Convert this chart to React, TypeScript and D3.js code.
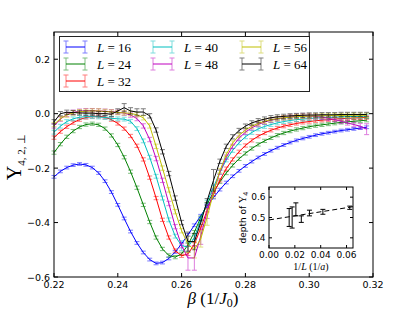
import * as d3 from "d3";

// coupling grid (1/J0)
const beta = [
  0.22, 0.222, 0.224, 0.226, 0.228, 0.23, 0.232, 0.234, 0.236, 0.238,
  0.24, 0.242, 0.244, 0.246, 0.248, 0.25, 0.252, 0.254, 0.256, 0.258,
  0.26, 0.262, 0.264, 0.266, 0.268, 0.27, 0.272, 0.274, 0.276, 0.278,
  0.28, 0.282, 0.284, 0.286, 0.288, 0.29, 0.292, 0.294, 0.296, 0.298,
  0.3, 0.302, 0.304, 0.306, 0.308, 0.31, 0.312, 0.314, 0.316, 0.318,
];

const lSizes = [16, 24, 32, 40, 48, 56, 64];
const lColors = ["#0000ff", "#008000", "#ff0000", "#00bfbf", "#bf00bf", "#bfbf00", "#000000"];

const ups16 = [
  -0.232, -0.212, -0.198, -0.189, -0.185, -0.188, -0.198, -0.218, -0.248, -0.288,
  -0.335, -0.385, -0.433, -0.475, -0.51, -0.536, -0.55, -0.547, -0.532, -0.508,
  -0.478, -0.445, -0.41, -0.375, -0.34, -0.308, -0.279, -0.253, -0.23, -0.21,
  -0.192, -0.176, -0.161, -0.148, -0.136, -0.125, -0.115, -0.106, -0.098, -0.091,
  -0.085, -0.079, -0.074, -0.07, -0.066, -0.062, -0.059, -0.056, -0.053, -0.05,
];
const ups24 = [
  -0.143, -0.112, -0.085, -0.064, -0.049, -0.04, -0.037, -0.041, -0.055, -0.08,
  -0.115, -0.16, -0.213, -0.272, -0.335, -0.398, -0.455, -0.497, -0.521, -0.527,
  -0.515, -0.482, -0.435, -0.382, -0.332, -0.288, -0.25, -0.218, -0.19, -0.166,
  -0.146, -0.128, -0.113, -0.1, -0.089, -0.079, -0.071, -0.064, -0.058, -0.053,
  -0.048, -0.044, -0.041, -0.038, -0.035, -0.032, -0.03, -0.028, -0.026, -0.024,
];
const ups32 = [
  -0.088, -0.066, -0.048, -0.033, -0.022, -0.014, -0.01, -0.009, -0.013, -0.022,
  -0.036, -0.055, -0.082, -0.118, -0.168, -0.235, -0.31, -0.39, -0.455, -0.503,
  -0.522, -0.515, -0.48, -0.42, -0.355, -0.295, -0.245, -0.202, -0.168, -0.14,
  -0.117, -0.098, -0.083, -0.071, -0.061, -0.053, -0.046, -0.041, -0.036, -0.032,
  -0.029, -0.026, -0.024, -0.022, -0.02, -0.018, -0.017, -0.016, -0.015, -0.014,
];
const ups40 = [
  -0.068, -0.046, -0.029, -0.019, -0.013, -0.011, -0.011, -0.012, -0.014, -0.017,
  -0.019, -0.02, -0.028, -0.055, -0.1, -0.16, -0.23, -0.31, -0.39, -0.45,
  -0.485, -0.49, -0.455, -0.39, -0.325, -0.27, -0.215, -0.17, -0.135, -0.107,
  -0.085, -0.069, -0.056, -0.047, -0.04, -0.034, -0.029, -0.025, -0.022, -0.02,
  -0.018, -0.016, -0.015, -0.014, -0.013, -0.012, -0.011, -0.01, -0.01, -0.009,
];
const ups48 = [
  -0.045, -0.02, -0.003, 0.005, 0.009, 0.011, 0.011, 0.01, 0.009, 0.007,
  0.005, 0.002, -0.005, -0.018, -0.045, -0.095, -0.165, -0.245, -0.33, -0.415,
  -0.485, -0.53, -0.53, -0.45, -0.36, -0.285, -0.215, -0.16, -0.12, -0.09,
  -0.068, -0.052, -0.04, -0.031, -0.024, -0.019, -0.015, -0.012, -0.01, -0.009,
  -0.009, -0.01, -0.013, -0.017, -0.022, -0.028, -0.034, -0.04, -0.046, -0.057,
];
const ups56 = [
  -0.04, -0.018, -0.005, 0.003, 0.007, 0.009, 0.01, 0.01, 0.008, 0.006,
  0.004, 0.003, 0.001, -0.004, -0.015, -0.045, -0.12, -0.2, -0.28, -0.36,
  -0.43, -0.48, -0.5, -0.46, -0.38, -0.29, -0.21, -0.15, -0.108, -0.08,
  -0.06, -0.046, -0.036, -0.028, -0.022, -0.018, -0.015, -0.013, -0.011, -0.01,
  -0.009, -0.008, -0.008, -0.007, -0.007, -0.007, -0.006, -0.006, -0.006, -0.006,
];
const ups64 = [
  -0.03, 0.0, 0.005, 0.004, 0.003, 0.002, 0.002, 0.0, 0.0, -0.002,
  0.01, 0.022, 0.01, 0.006, 0.006, -0.008, -0.06, -0.14, -0.22, -0.31,
  -0.4, -0.47, -0.47, -0.4, -0.32, -0.245, -0.175, -0.12, -0.085, -0.062,
  -0.046, -0.034, -0.026, -0.02, -0.015, -0.012, -0.01, -0.008, -0.007, -0.006,
  -0.005, -0.005, -0.004, -0.004, -0.004, -0.003, -0.003, -0.003, -0.003, -0.003,
];
const upsByL = [ups16, ups24, ups32, ups40, ups48, ups56, ups64];

// typical error per size, and the larger ones near the dip: [L, beta, err]
const baseErr = [0.005, 0.006, 0.006, 0.007, 0.008, 0.008, 0.008];
const bigErr: [number, number, number][] = [
  [40, 0.26, 0.018], [40, 0.262, 0.018],
  [48, 0.262, 0.045], [48, 0.264, 0.045], [48, 0.266, 0.03], [48, 0.268, 0.025],
  [48, 0.316, 0.01], [48, 0.318, 0.02],
  [56, 0.262, 0.03], [56, 0.264, 0.03], [56, 0.266, 0.03], [56, 0.268, 0.03], [56, 0.27, 0.02],
  [64, 0.242, 0.015], [64, 0.244, 0.012], [64, 0.246, 0.012], [64, 0.248, 0.012],
  [64, 0.262, 0.035], [64, 0.264, 0.03], [64, 0.27, 0.04],
];

// inset: depth of the dip vs 1/L
const insetInvL = [0.0156, 0.0179, 0.0208, 0.025, 0.0313, 0.0417, 0.0625];
const insetDepth = [0.5, 0.5, 0.54, 0.492, 0.522, 0.528, 0.548];
const insetErr = [0.044, 0.052, 0.032, 0.016, 0.014, 0.012, 0.008];
const fitInvL = [0, 0.065];
const fitDepth = [0.488, 0.553];

const xTicks = [0.22, 0.24, 0.26, 0.28, 0.3, 0.32];
const yTicks = [-0.6, -0.4, -0.2, 0.0, 0.2];
const insetXTicks = [0, 0.02, 0.04, 0.06];
const insetYTicks = [0.4, 0.5, 0.6];

const M = { left: 54, right: 373, top: 32, bottom: 277 };
const IN = { left: 269, right: 353, top: 187, bottom: 248 };
const SANS = "DejaVu Sans";
const SERIF = "Liberation Serif";

function errOf(li: number, b: number) {
  const hit = bigErr.find((d) => d[0] === lSizes[li] && Math.abs(d[1] - b) < 1e-6);
  return hit ? hit[2] : baseErr[li];
}

function ErrBar({ cx, y0, y1, color, cap }: { cx: number; y0: number; y1: number; color: string; cap: number }) {
  return (
    <g stroke={color} strokeWidth={1} opacity={0.5}>
      <line x1={cx} x2={cx} y1={y0} y2={y1} />
      <line x1={cx - cap} x2={cx + cap} y1={y0} y2={y0} />
      <line x1={cx - cap} x2={cx + cap} y1={y1} y2={y1} />
    </g>
  );
}

export default function App() {
  const x = d3.scaleLinear().domain([0.22, 0.32]).range([M.left, M.right]);
  const y = d3.scaleLinear().domain([-0.6, 0.3]).range([M.bottom, M.top]);
  const line = d3
    .line<number>()
    .x((_, i) => x(beta[i]))
    .y((d) => y(d));

  const ix = d3.scaleLinear().domain([0, 0.065]).range([IN.left, IN.right]);
  const iy = d3.scaleLinear().domain([0.35, 0.65]).range([IN.bottom, IN.top]);
  const fitLine = d3
    .line<number>()
    .x((_, i) => ix(fitInvL[i]))
    .y((d) => iy(d));

  const fx = d3.format(".2f");
  const fy = d3.format(".1f");

  // legend layout: column-major, 3 / 2 / 2
  const legCols = [66, 153, 242];
  const legRows = [47, 64, 81];
  const legPos = [
    [0, 0], [0, 1], [0, 2], [1, 0], [1, 1], [2, 0], [2, 1],
  ];

  return (
    <svg width={415} height={312} style={{ position: "absolute", left: 0, top: 0, background: "#fff" }}>
      {/* curves with error bars */}
      {upsByL.map((vals, li) => (
        <g key={lSizes[li]}>
          {vals.map((v, i) => {
            const e = errOf(li, beta[i]);
            return (
              <ErrBar key={i} cx={x(beta[i])} y0={y(v - e)} y1={y(v + e)} color={lColors[li]} cap={2.5} />
            );
          })}
          <path d={line(vals) ?? ""} fill="none" stroke={lColors[li]} strokeWidth={1} />
        </g>
      ))}

      {/* main frame and ticks */}
      <rect x={M.left} y={M.top} width={M.right - M.left} height={M.bottom - M.top} fill="none" stroke="#000" strokeWidth={1} />
      {xTicks.map((t) => (
        <g key={t}>
          <line x1={x(t)} x2={x(t)} y1={M.bottom} y2={M.bottom - 4} stroke="#000" />
          <line x1={x(t)} x2={x(t)} y1={M.top} y2={M.top + 4} stroke="#000" />
          <text x={x(t)} y={288} textAnchor="middle" fontFamily={SANS} fontSize={9.5}>
            {fx(t)}
          </text>
        </g>
      ))}
      {yTicks.map((t) => (
        <g key={t}>
          <line x1={M.left} x2={M.left + 4} y1={y(t)} y2={y(t)} stroke="#000" />
          <line x1={M.right} x2={M.right - 4} y1={y(t)} y2={y(t)} stroke="#000" />
          <text x={50} y={y(t) + 3.5} textAnchor="end" fontFamily={SANS} fontSize={9.5}>
            {fy(t)}
          </text>
        </g>
      ))}

      {/* axis labels */}
      <text x={213} y={304} textAnchor="middle" fontFamily={SERIF} fontSize={17}>
        <tspan fontStyle="italic">β</tspan> (1/<tspan fontStyle="italic">J</tspan>
        <tspan fontSize={12} dy={3}>0</tspan>
        <tspan dy={-3}>)</tspan>
      </text>
      <text transform="translate(21,157) rotate(-90)" textAnchor="middle" fontFamily={SERIF}>
        <tspan fontSize={20}>Υ</tspan>
        <tspan fontSize={11} dy={4}>4, 2, ⊥</tspan>
      </text>

      {/* legend */}
      <rect x={59.5} y={36.5} width={250} height={55} fill="#fff" stroke="#222" strokeWidth={1} />
      {lSizes.map((L, li) => {
        const [c, r] = legPos[li];
        const x0 = legCols[c];
        const x1 = x0 + 19;
        const cy = legRows[r];
        return (
          <g key={L}>
            <ErrBar cx={x0} y0={cy - 6} y1={cy + 6} color={lColors[li]} cap={2.5} />
            <ErrBar cx={x1} y0={cy - 6} y1={cy + 6} color={lColors[li]} cap={2.5} />
            <line x1={x0} x2={x1} y1={cy} y2={cy} stroke={lColors[li]} strokeWidth={1} />
            <text x={x0 + 31} y={cy + 4.5} fontFamily={SERIF} fontSize={13}>
              <tspan fontStyle="italic">L</tspan>
              {" = " + L}
            </text>
          </g>
        );
      })}

      {/* inset */}
      <rect x={IN.left} y={IN.top} width={IN.right - IN.left} height={IN.bottom - IN.top} fill="#fff" stroke="#000" strokeWidth={1} />
      <path d={fitLine(fitDepth) ?? ""} fill="none" stroke="#000" strokeWidth={1} strokeDasharray="5,3" />
      {insetInvL.map((v, i) => {
        const cx = ix(v);
        const y0 = iy(insetDepth[i] - insetErr[i]);
        const y1 = iy(insetDepth[i] + insetErr[i]);
        return (
          <g key={i} stroke="#000" strokeWidth={1}>
            <line x1={cx} x2={cx} y1={y0} y2={y1} />
            <line x1={cx - 2.5} x2={cx + 2.5} y1={y0} y2={y0} />
            <line x1={cx - 2.5} x2={cx + 2.5} y1={y1} y2={y1} />
          </g>
        );
      })}
      {insetXTicks.map((t) => (
        <g key={t}>
          <line x1={ix(t)} x2={ix(t)} y1={IN.bottom} y2={IN.bottom - 3} stroke="#000" />
          <line x1={ix(t)} x2={ix(t)} y1={IN.top} y2={IN.top + 3} stroke="#000" />
          <text x={ix(t)} y={257.5} textAnchor="middle" fontFamily={SANS} fontSize={9}>
            {fx(t)}
          </text>
        </g>
      ))}
      {insetYTicks.map((t) => (
        <g key={t}>
          <line x1={IN.left} x2={IN.left + 3} y1={iy(t)} y2={iy(t)} stroke="#000" />
          <line x1={IN.right} x2={IN.right - 3} y1={iy(t)} y2={iy(t)} stroke="#000" />
          <text x={265.5} y={iy(t) + 3.3} textAnchor="end" fontFamily={SANS} fontSize={9}>
            {fy(t)}
          </text>
        </g>
      ))}
      <text x={311} y={270} textAnchor="middle" fontFamily={SERIF} fontSize={10}>
        1/<tspan fontStyle="italic">L</tspan> (1/<tspan fontStyle="italic">a</tspan>)
      </text>
      <text transform="translate(246,217.5) rotate(-90)" textAnchor="middle" fontFamily={SANS} fontSize={9}>
        depth of <tspan fontFamily={SERIF} fontSize={10}>Υ</tspan>
        <tspan fontSize={6.5} dy={2}>4</tspan>
      </text>
    </svg>
  );
}
